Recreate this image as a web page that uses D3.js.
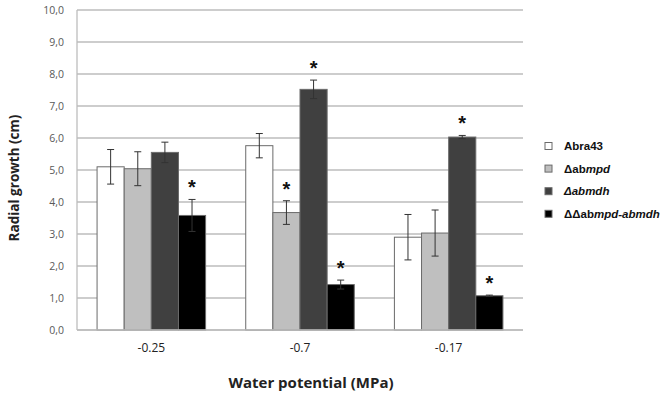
<!DOCTYPE html>
<html>
<head>
<meta charset="utf-8">
<script src="https://cdn.jsdelivr.net/npm/d3@7"></script>
<style>
  body { margin: 0; background: #fff; }
  svg { display: block; }
</style>
</head>
<body>
<div id="chart"></div>
<script>
// Data
const categories = ["-0.25", "-0.7", "-0.17"];
const seriesNames = ["Abra43", "abmpd", "abmdh", "abmpd-abmdh"];
const abra43 = [5.10, 5.76, 2.90];
const abmpd = [5.04, 3.67, 3.03];
const abmdh = [5.55, 7.52, 6.03];
const abmpdAbmdh = [3.58, 1.42, 1.07];
const errAbra43 = [0.54, 0.38, 0.71];
const errAbmpd = [0.53, 0.37, 0.72];
const errAbmdh = [0.32, 0.29, 0.05];
const errAbmpdAbmdh = [0.50, 0.14, 0.02];
// significance stars (1 = star)
const starAbra43 = [0, 0, 0];
const starAbmpd = [0, 1, 0];
const starAbmdh = [0, 1, 1];
const starAbmpdAbmdh = [1, 1, 1];
const yTicks = [0, 1, 2, 3, 4, 5, 6, 7, 8, 9, 10];

const values = [abra43, abmpd, abmdh, abmpdAbmdh];
const errors = [errAbra43, errAbmpd, errAbmdh, errAbmpdAbmdh];
const stars = [starAbra43, starAbmpd, starAbmdh, starAbmpdAbmdh];
const fills = ["#ffffff", "#bfbfbf", "#404040", "#000000"];

const width = 670, height = 397;
const plot = {left: 77, right: 523, top: 10, bottom: 330};

const svg = d3.select("#chart").append("svg")
  .attr("width", width)
  .attr("height", height);

const y = d3.scaleLinear().domain([0, 10]).range([plot.bottom, plot.top]);
const x0 = d3.scaleBand().domain(categories).range([plot.left, plot.right])
  .paddingInner(0.27).paddingOuter(0.135);
const x1 = d3.scaleBand().domain(d3.range(4)).range([0, x0.bandwidth()]);

// gridlines
svg.append("g")
  .selectAll("line")
  .data(yTicks)
  .enter().append("line")
  .attr("x1", plot.left).attr("x2", plot.right)
  .attr("y1", d => y(d)).attr("y2", d => y(d))
  .attr("stroke", "#bdbdbd")
  .attr("stroke-width", 1.3);

// y axis line
svg.append("line")
  .attr("x1", plot.left).attr("x2", plot.left)
  .attr("y1", plot.top).attr("y2", plot.bottom)
  .attr("stroke", "#bdbdbd").attr("stroke-width", 1.3);

// y tick labels
svg.append("g")
  .selectAll("text")
  .data(yTicks)
  .enter().append("text")
  .attr("x", 64)
  .attr("y", d => y(d))
  .attr("dy", "0.35em")
  .attr("text-anchor", "end")
  .style("font-family", "'Open Sans', sans-serif")
  .style("font-size", "10.5px")
  .style("fill", "#595959")
  .text(d => d.toFixed(1).replace(".", ","));

// bars
const rows = [];
categories.forEach((c, ci) => {
  values.forEach((s, si) => {
    rows.push({cat: c, si: si, v: s[ci], e: errors[si][ci], star: stars[si][ci]});
  });
});

const groups = svg.append("g").selectAll("g")
  .data(rows)
  .enter().append("g")
  .attr("transform", d => "translate(" + (x0(d.cat) + x1(d.si)) + ",0)");

groups.append("rect")
  .attr("x", 0)
  .attr("width", x1.bandwidth())
  .attr("y", d => y(d.v))
  .attr("height", d => plot.bottom - y(d.v))
  .attr("fill", d => fills[d.si])
  .attr("stroke", "#6b6b6b")
  .attr("stroke-width", 1);

// error bars
const cx = x1.bandwidth() / 2;
groups.append("line")
  .attr("x1", cx).attr("x2", cx)
  .attr("y1", d => y(d.v + d.e)).attr("y2", d => y(d.v - d.e))
  .attr("stroke", "#333").attr("stroke-width", 1);
groups.append("line")
  .attr("x1", cx - 3.5).attr("x2", cx + 3.5)
  .attr("y1", d => y(d.v + d.e)).attr("y2", d => y(d.v + d.e))
  .attr("stroke", "#333").attr("stroke-width", 1);
groups.append("line")
  .attr("x1", cx - 3.5).attr("x2", cx + 3.5)
  .attr("y1", d => y(d.v - d.e)).attr("y2", d => y(d.v - d.e))
  .attr("stroke", "#333").attr("stroke-width", 1);

// stars
groups.filter(d => d.star)
  .append("text")
  .attr("x", cx)
  .attr("y", d => y(d.v + d.e) - 5)
  .attr("text-anchor", "middle")
  .style("font-family", "'Liberation Sans', Arial, sans-serif")
  .style("font-size", "20px")
  .style("font-weight", "bold")
  .style("fill", "#111")
  .text("*");

// x axis line
svg.append("line")
  .attr("x1", plot.left).attr("x2", plot.right)
  .attr("y1", plot.bottom).attr("y2", plot.bottom)
  .attr("stroke", "#bdbdbd").attr("stroke-width", 1.3);

// category labels
svg.append("g")
  .selectAll("text")
  .data(categories)
  .enter().append("text")
  .attr("x", d => x0(d) + x0.bandwidth() / 2)
  .attr("y", 352)
  .attr("text-anchor", "middle")
  .style("font-family", "'Open Sans', sans-serif")
  .style("font-size", "12px")
  .style("fill", "#222")
  .text(d => d);

// axis titles
svg.append("text")
  .attr("x", 311)
  .attr("y", 388)
  .attr("text-anchor", "middle")
  .style("font-family", "'Open Sans', sans-serif")
  .style("font-size", "15px")
  .style("font-weight", "bold")
  .style("fill", "#222")
  .text("Water potential (MPa)");

svg.append("text")
  .attr("transform", "translate(19,178) rotate(-90)")
  .attr("text-anchor", "middle")
  .style("font-family", "'Open Sans', sans-serif")
  .style("font-size", "13.5px")
  .style("font-weight", "bold")
  .style("fill", "#222")
  .text("Radial growth (cm)");

// legend
const legendParts = [
  [["Abra43", false]],
  [["\u0394ab", false], ["mpd", true]],
  [["\u0394abmdh", true]],
  [["\u0394\u0394ab", false], ["mpd-abmdh", true]]
];
const legend = svg.append("g").selectAll("g")
  .data(legendParts)
  .enter().append("g")
  .attr("transform", (d, i) => "translate(545," + (146 + i * 22.6) + ")");

legend.append("rect")
  .attr("x", 0).attr("y", -3.5)
  .attr("width", 7).attr("height", 7)
  .attr("fill", (d, i) => fills[i])
  .attr("stroke", "#6b6b6b").attr("stroke-width", 1);

const lt = legend.append("text")
  .attr("x", 19)
  .attr("y", 0)
  .attr("dy", "0.35em")
  .style("font-family", "'Liberation Sans', Arial, sans-serif")
  .style("font-size", "11.5px")
  .style("font-weight", "bold")
  .style("fill", "#111");
lt.selectAll("tspan")
  .data(d => d)
  .enter().append("tspan")
  .style("font-style", d => d[1] ? "italic" : "normal")
  .text(d => d[0]);
</script>
</body>
</html>
